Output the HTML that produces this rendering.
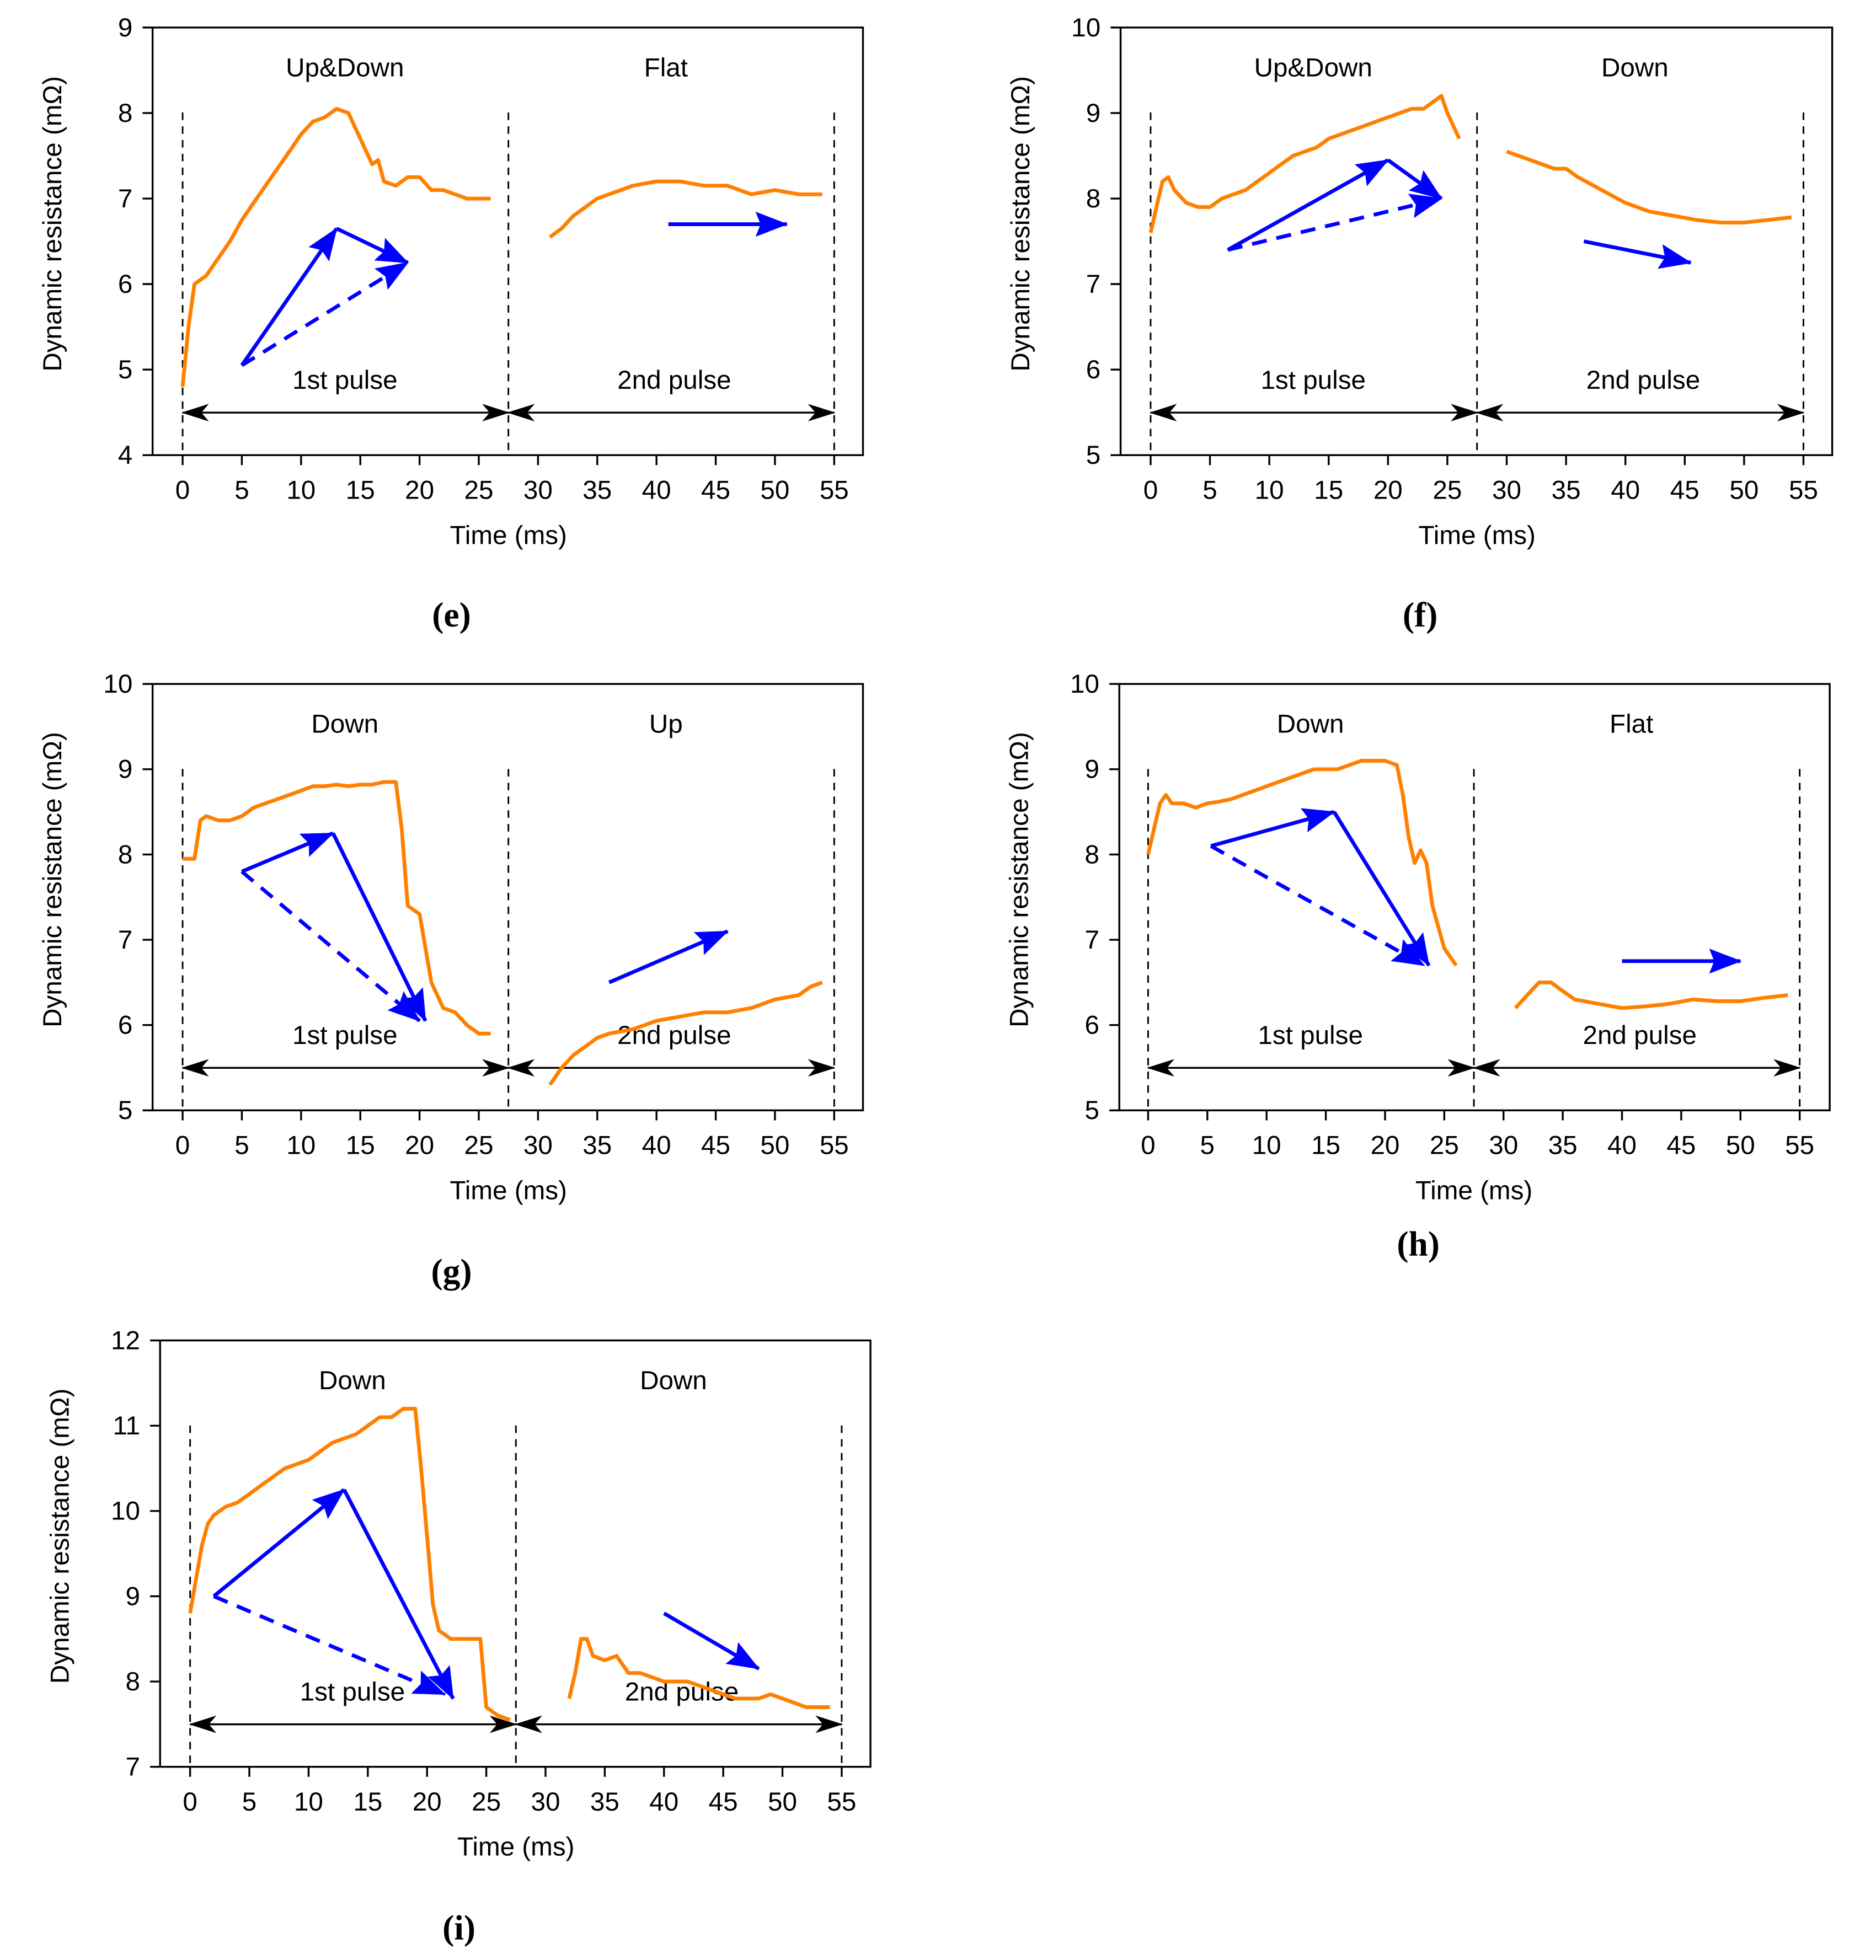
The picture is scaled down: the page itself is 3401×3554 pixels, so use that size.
<!DOCTYPE html>
<html><head><meta charset="utf-8">
<style>
html,body{margin:0;padding:0;background:#fff;}
svg{display:block;}
text{font-family:"Liberation Sans",sans-serif;fill:#000;}
.cap{font-family:"Liberation Serif",serif;font-weight:bold;font-size:28px;}
</style></head>
<body>
<svg id="fig" width="3401" height="3554" viewBox="0 0 1500 1567.5" xmlns="http://www.w3.org/2000/svg">
<defs>
<marker id="bh" viewBox="0 0 26 20" refX="25" refY="10" markerWidth="26" markerHeight="20" markerUnits="userSpaceOnUse" orient="auto"><path d="M0,0L26,10L0,20L4,10z" fill="#0000ff"/></marker>
<marker id="kh" viewBox="0 0 22 14" refX="21" refY="7" markerWidth="22" markerHeight="14" markerUnits="userSpaceOnUse" orient="auto-start-reverse"><path d="M0,0L22,7L0,14L6,7z" fill="#000"/></marker>
</defs>
</svg>
<script>
// Panel (e)
const eT1=[0,0.5,1,2,3,4,5,6,7,8,9,10,11,12,13,14,15,16,16.5,17,18,19,20,21,22,23,24,25,26];
const eV1=[4.8,5.5,6.0,6.1,6.3,6.5,6.75,6.95,7.15,7.35,7.55,7.75,7.9,7.95,8.05,8.0,7.7,7.4,7.45,7.2,7.15,7.25,7.25,7.1,7.1,7.05,7.0,7.0,7.0];
const eT2=[31,32,33,34,35,36,37,38,40,42,44,46,48,50,52,54];
const eV2=[6.55,6.65,6.8,6.9,7.0,7.05,7.1,7.15,7.2,7.2,7.15,7.15,7.05,7.1,7.05,7.05];
// Panel (f)
const fT1=[0,0.5,1,1.5,2,3,4,5,6,7,8,9,10,11,12,13,14,15,16,17,18,19,20,21,22,23,24,24.5,25,26];
const fV1=[7.6,7.9,8.2,8.25,8.1,7.95,7.9,7.9,8.0,8.05,8.1,8.2,8.3,8.4,8.5,8.55,8.6,8.7,8.75,8.8,8.85,8.9,8.95,9.0,9.05,9.05,9.15,9.2,9.0,8.7];
const fT2=[30,32,34,35,36,38,40,42,44,46,48,50,52,54];
const fV2=[8.55,8.45,8.35,8.35,8.25,8.1,7.95,7.85,7.8,7.75,7.72,7.72,7.75,7.78];
// Panel (g)
const gT1=[0,1,1.5,2,3,4,5,6,7,8,9,10,11,12,13,14,15,16,17,18,18.5,19,20,20.5,21,22,23,24,25,26];
const gV1=[7.95,7.95,8.4,8.45,8.4,8.4,8.45,8.55,8.6,8.65,8.7,8.75,8.8,8.8,8.82,8.8,8.82,8.82,8.85,8.85,8.3,7.4,7.3,6.9,6.5,6.2,6.15,6.0,5.9,5.9];
const gT2=[31,32,33,34,35,36,38,40,42,44,46,48,50,52,53,54];
const gV2=[5.3,5.5,5.65,5.75,5.85,5.9,5.95,6.05,6.1,6.15,6.15,6.2,6.3,6.35,6.45,6.5];
// Panel (h)
const hT1=[0,0.5,1,1.5,2,3,4,5,6,7,8,9,10,11,12,13,14,15,16,17,18,19,20,21,21.5,22,22.5,23,23.5,24,25,26];
const hV1=[8.0,8.3,8.6,8.7,8.6,8.6,8.55,8.6,8.62,8.65,8.7,8.75,8.8,8.85,8.9,8.95,9.0,9.0,9.0,9.05,9.1,9.1,9.1,9.05,8.7,8.2,7.9,8.05,7.9,7.4,6.9,6.7];
const hT2=[31,32,33,34,35,36,38,40,42,44,46,48,50,52,54];
const hV2=[6.2,6.35,6.5,6.5,6.4,6.3,6.25,6.2,6.22,6.25,6.3,6.28,6.28,6.32,6.35];
// Panel (i)
const iT1=[0,0.5,1,1.5,2,3,4,5,6,7,8,9,10,11,12,13,14,15,16,17,18,19,19.5,20,20.5,21,22,23,24,24.5,25,26,27];
const iV1=[8.8,9.2,9.6,9.85,9.95,10.05,10.1,10.2,10.3,10.4,10.5,10.55,10.6,10.7,10.8,10.85,10.9,11.0,11.1,11.1,11.2,11.2,10.5,9.7,8.9,8.6,8.5,8.5,8.5,8.5,7.7,7.6,7.55];
const iT2=[32,32.5,33,33.5,34,35,36,37,38,40,42,44,46,48,49,50,52,54];
const iV2=[7.8,8.1,8.5,8.5,8.3,8.25,8.3,8.1,8.1,8.0,8.0,7.9,7.8,7.8,7.85,7.8,7.7,7.7];
// Trend arrows [t0,v0,t1,v1,...]
const eSolid=[5,5.05,13,6.65,19,6.25], eDash=[5,5.05,19,6.25], e2nd=[41,6.7,51,6.7];
const fSolid=[6.5,7.4,20,8.45,24.5,8.0], fDash=[6.5,7.4,24.5,8.0], f2nd=[36.5,7.5,45.5,7.25];
const gSolid=[5,7.8,12.7,8.25,20.5,6.05], gDash=[5,7.8,20,6.05], g2nd=[36,6.5,46,7.1];
const hSolid=[5.3,8.1,15.7,8.5,23.7,6.7], hDash=[5.3,8.1,23.3,6.7], h2nd=[40,6.75,50,6.75];
const iSolid=[2,9.0,13,10.25,22.2,7.8], iDash=[2,9.0,21.5,7.85], i2nd=[40,8.8,48,8.15];
const xTicks=[0,5,10,15,20,25,30,35,40,45,50,55];

const NS="http://www.w3.org/2000/svg";
const svg=document.getElementById('fig');
function mk(tag,attrs,parent,txt){const e=document.createElementNS(NS,tag);for(const k in attrs)e.setAttribute(k,attrs[k]);if(txt!==undefined)e.textContent=txt;(parent||svg).appendChild(e);return e;}

const panels=[
 {id:'e',bx:122,by:22,bw:568,bh:342,x0:146,x55:667,ymin:4,ymax:9,cy:501,top:['Up&Down','Flat'],t1:eT1,v1:eV1,t2:eT2,v2:eV2,s:eSolid,d:eDash,a2:e2nd},
 {id:'f',bx:896,by:22,bw:569,bh:342,x0:920,x55:1442,ymin:5,ymax:10,cy:501,top:['Up&Down','Down'],t1:fT1,v1:fV1,t2:fT2,v2:fV2,s:fSolid,d:fDash,a2:f2nd},
 {id:'g',bx:122,by:547,bw:568,bh:341,x0:146,x55:667,ymin:5,ymax:10,cy:1026,top:['Down','Up'],t1:gT1,v1:gV1,t2:gT2,v2:gV2,s:gSolid,d:gDash,a2:g2nd},
 {id:'h',bx:895,by:547,bw:568,bh:341,x0:918,x55:1439,ymin:5,ymax:10,cy:1004,top:['Down','Flat'],t1:hT1,v1:hV1,t2:hT2,v2:hV2,s:hSolid,d:hDash,a2:h2nd},
 {id:'i',bx:128,by:1072,bw:568,bh:341,x0:152,x55:673,ymin:7,ymax:12,cy:1551,top:['Down','Down'],t1:iT1,v1:iV1,t2:iT2,v2:iV2,s:iSolid,d:iDash,a2:i2nd}
];

panels.forEach(p=>{
 const g=mk('g',{});
 
 
 const X=t=>p.x0+(p.x55-p.x0)*t/55;
 const Y=v=>p.by+p.bh*(p.ymax-v)/(p.ymax-p.ymin);
 const box=mk('rect',{x:p.bx,y:p.by,width:p.bw,height:p.bh,fill:'none',stroke:'#000','stroke-width':1.5},g);
 
 
 for(let v=p.ymin;v<=p.ymax;v++){
  mk('line',{x1:p.bx-8,x2:p.bx,y1:Y(v),y2:Y(v),stroke:'#000','stroke-width':1.5},g);
  const t=mk('text',{x:p.bx-16,y:Y(v)+7,'text-anchor':'end','font-size':21},g,String(v));
  
  
 }
 xTicks.forEach(tv=>{
  mk('line',{x1:X(tv),x2:X(tv),y1:p.by+p.bh,y2:p.by+p.bh+8,stroke:'#000','stroke-width':1.5},g);
  const t=mk('text',{x:X(tv),y:p.by+p.bh+35,'text-anchor':'middle','font-size':21},g,String(tv));
  
  
 });
 const xt=mk('text',{x:(p.x0+p.x55)/2,y:p.by+p.bh+71,'text-anchor':'middle','font-size':21},g,'Time (ms)');
 
 
 const ycx=p.bx-73, ycy=p.by+p.bh/2-14;
 const yt=mk('text',{x:ycx,y:ycy,'text-anchor':'middle','font-size':21,transform:`rotate(-90 ${ycx} ${ycy})`},g,'Dynamic resistance (mΩ)');
 
 
 [0,27.5,55].forEach(tv=>{
  const l=mk('line',{x1:X(tv),x2:X(tv),y1:p.by+68,y2:p.by+p.bh,stroke:'#000','stroke-width':1.3,'stroke-dasharray':'6,5'},g);
  
  
 });
 const ay=p.by+p.bh-34;
 [[0,27.5],[27.5,55]].forEach(r=>{
  const l=mk('line',{x1:X(r[0]),x2:X(r[1]),y1:ay,y2:ay,stroke:'#000','stroke-width':1.5,'marker-start':'url(#kh)','marker-end':'url(#kh)'},g);
  
  
 });
 const t1=mk('text',{x:X(13.7),y:p.by+39,'text-anchor':'middle','font-size':21},g,p.top[0]);
 
 
 const t2=mk('text',{x:X(40.8),y:p.by+39,'text-anchor':'middle','font-size':21},g,p.top[1]);
 
 
 const l1=mk('text',{x:X(13.7),y:ay-19,'text-anchor':'middle','font-size':21},g,'1st pulse');
 
 
 const l2=mk('text',{x:X(41.5),y:ay-19,'text-anchor':'middle','font-size':21},g,'2nd pulse');
 
 
 [[p.t1,p.v1,'resistance-curve-1st'],[p.t2,p.v2,'resistance-curve-2nd']].forEach(c=>{
  const pts=c[0].map((t,i)=>X(t).toFixed(1)+','+Y(c[1][i]).toFixed(1)).join(' ');
  const pl=mk('polyline',{points:pts,fill:'none',stroke:'#ff8000','stroke-width':3,'stroke-linejoin':'round'},g);
  
  
 });
 function seg(a,i,dash,name){
  const ln=mk('line',{x1:X(a[i]),y1:Y(a[i+1]),x2:X(a[i+2]),y2:Y(a[i+3]),stroke:'#0000ff','stroke-width':3,'marker-end':'url(#bh)'},g);
  if(dash)ln.setAttribute('stroke-dasharray','12,8');
  
  
 }
 seg(p.s,0,false,'trend-arrow-rise');
 seg(p.s,2,false,'trend-arrow-fall');
 seg(p.d,0,true,'trend-arrow-net');
 seg(p.a2,0,false,'trend-arrow-2nd');
 const cap=mk('text',{x:(p.bx+p.bw/2)-45,y:p.cy,'text-anchor':'middle',class:'cap'},g,'('+p.id+')');
 
 
});
</script>
</body></html>
